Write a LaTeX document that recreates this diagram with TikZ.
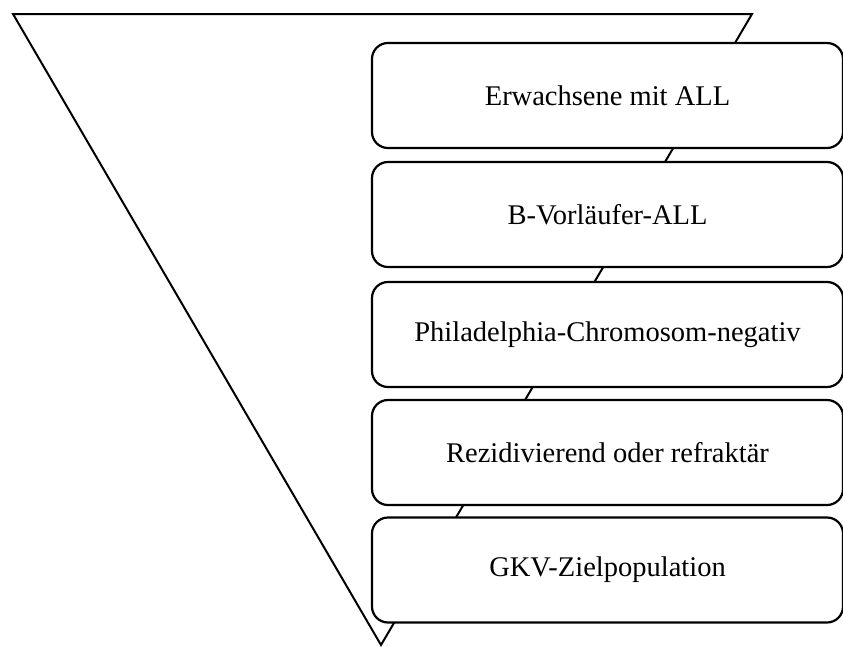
\documentclass[tikz,border=0pt]{standalone}
\usepackage{fontspec}
\setmainfont{Liberation Serif}
\begin{document}
\begin{tikzpicture}[x=1pt,y=-1pt,
  stage/.style={draw, line width=2.2pt, rounded corners=16pt, fill=white, minimum width=471pt, minimum height=105pt, font=\fontsize{28.5}{34}\selectfont, inner sep=0pt}]
\useasboundingbox (0,0) rectangle (843,646);
\coordinate (tl) at (13,14);
\coordinate (tr) at (752,14);
\coordinate (ap) at (381,645);
\draw[line width=2pt, line join=miter] (tl) -- (tr) -- (ap) -- cycle;
\node[stage] (b1) at (607.5,95.5) {Erwachsene mit ALL};
\node[stage] (b2) at (607.5,214.5) {B-Vorläufer-ALL};
\node[stage] (b3) at (607.5,334.5) {Philadelphia-Chromosom-negativ};
\node[stage] (b4) at (607.5,452.5) {Rezidivierend oder refraktär};
\node[stage] (b5) at (607.5,570) {GKV-Zielpopulation};
\end{tikzpicture}
\end{document}
